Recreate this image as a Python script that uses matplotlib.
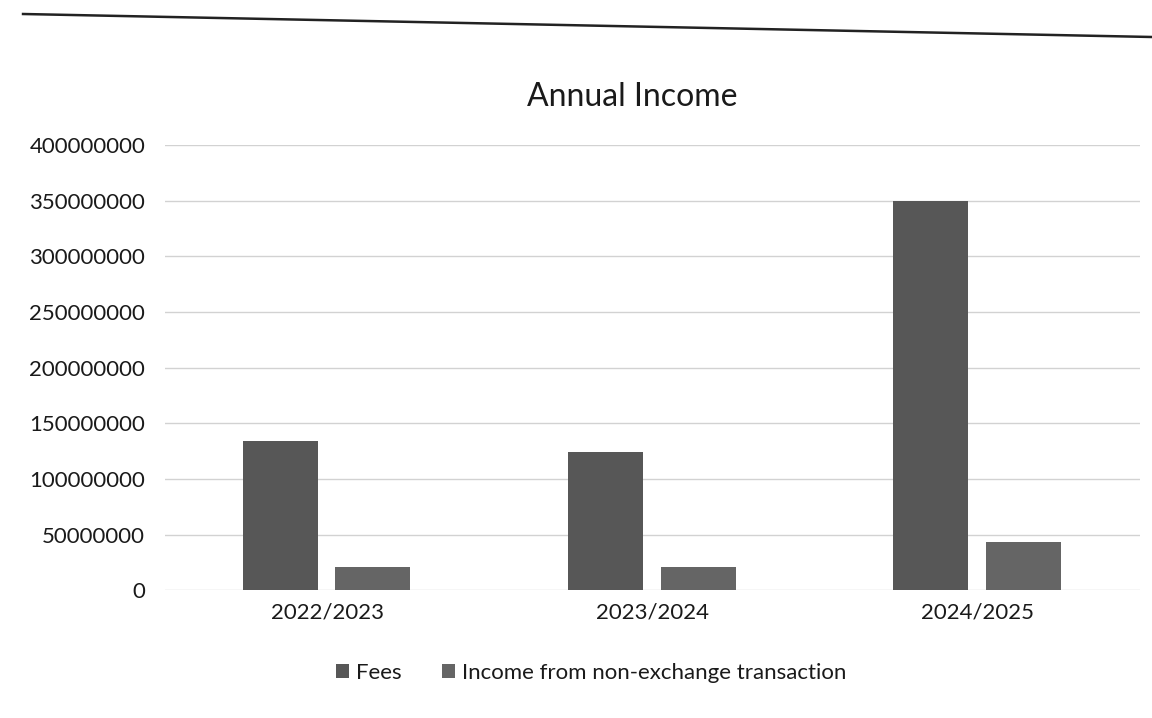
import matplotlib.pyplot as plt
import numpy as np
from matplotlib.lines import Line2D

years = ['2022/2023', '2023/2024', '2024/2025']
fees = [134000000, 124000000, 350000000]
non_exchange = [21000000, 21000000, 43000000]

plt.rcParams['font.family'] = ['Lato', 'DejaVu Sans']

fig = plt.figure(figsize=(11.52, 7.18), dpi=100)
ax = fig.add_axes([0.143, 0.178, 0.847, 0.62])

x = np.arange(len(years))
w = 0.23
ax.bar(x - 0.145, fees, w, color='#575757', label='Fees', zorder=3)
ax.bar(x + 0.14, non_exchange, w, color='#656565', label='Income from non-exchange transaction', zorder=3)

ax.set_xlim(-0.5, 2.5)
ax.set_ylim(0, 400000000)
ax.set_yticks(np.arange(0, 400000001, 50000000))
ax.set_yticklabels([str(v) for v in range(0, 400000001, 50000000)])
ax.set_xticks(x)
ax.set_xticklabels(years)
ax.tick_params(axis='both', length=0, labelsize=16, colors='#1a1a1a')
ax.tick_params(axis='x', pad=9)
ax.tick_params(axis='y', pad=14)
ax.grid(axis='y', color='#d2d2d2', linewidth=1, zorder=0)
for s in ax.spines.values():
    s.set_visible(False)

fig.text(0.549, 0.865, 'Annual Income', fontsize=23, color='#1a1a1a', ha='center', va='center')

fig.legend(loc='center', bbox_to_anchor=(0.513, 0.063), ncol=2, frameon=False,
           fontsize=16, handlelength=0.6, handleheight=0.6, handletextpad=0.3,
           columnspacing=1.8, labelcolor='#1a1a1a')

# scan edge line at the top of the page
fig.add_artist(Line2D([0.02, 1.0], [1 - 14 / 718, 1 - 37 / 718], color='#222222', linewidth=1.8))

fig.savefig('out.png', dpi=100)
